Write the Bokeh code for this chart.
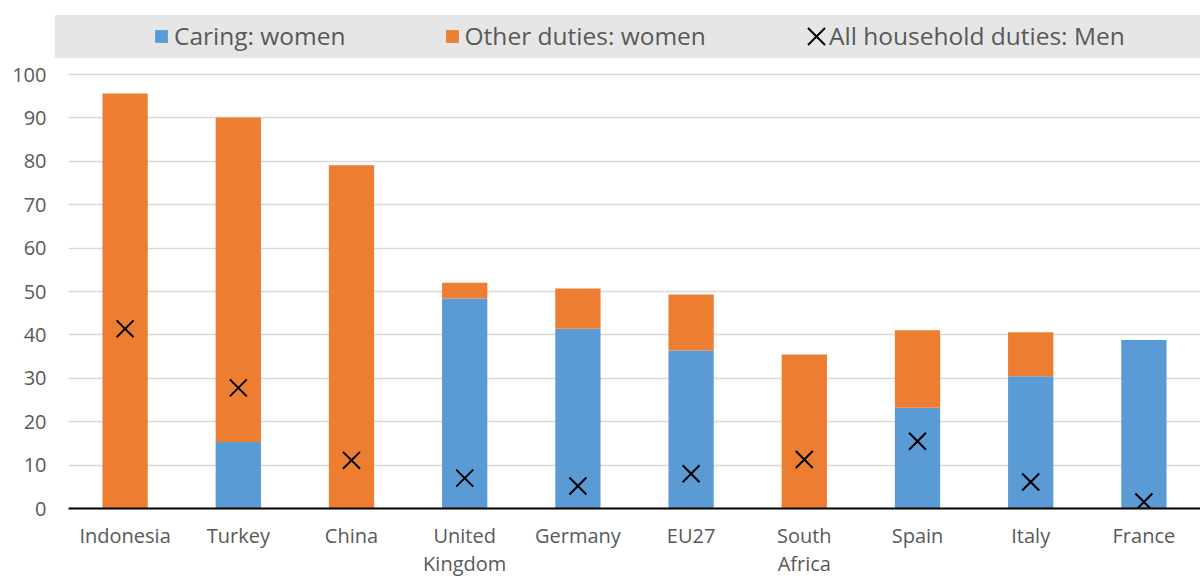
from bokeh.plotting import figure
from bokeh.models import (FactorRange, Range1d, FixedTicker, Legend,
                          LegendItem, ColumnDataSource, InlineStyleSheet)
from bokeh.embed import file_html
from bokeh.resources import INLINE

countries = ["Indonesia", "Turkey", "China", "United\nKingdom", "Germany", "EU27",
             "South\nAfrica", "Spain", "Italy", "France"]
caring_women = [0, 15.3, 0, 48.4, 41.4, 36.4, 0, 23.2, 30.5, 38.8]
other_women = [95.6, 74.8, 79.1, 3.6, 9.3, 12.9, 35.5, 17.9, 10.1, 0]
men_all = [41.4, 27.8, 11.1, 7.0, 5.2, 8.0, 11.3, 15.5, 6.1, 1.5]
y_ticks = list(range(0, 101, 10))
series_labels = ["Caring: women", "Other duties: women", "All household duties: Men"]

BLUE = "#5B9BD5"
ORANGE = "#ED7D31"
TXT = "#595959"
GREY = "#e6e6e6"
FONT = "Open Sans"

src = ColumnDataSource(dict(country=countries, caring=caring_women,
                            other=other_women, men=men_all))

p = figure(x_range=FactorRange(factors=countries), y_range=Range1d(0, 113.6),
           width=1200, height=579, output_backend="svg", toolbar_location=None,
           min_border_left=68, min_border_right=0, min_border_top=15,
           min_border_bottom=71)

# the grey legend strip begins a little left of the plotting area
p.border_fill_alpha = 0
p.stylesheets = [InlineStyleSheet(css=(
    ":host { background: linear-gradient(%s, %s) 55px 15px / 14px 43px no-repeat, white; }"
    % (GREY, GREY)))]

bars = p.vbar_stack(["caring", "other"], x="country", width=0.4, source=src,
                    color=[BLUE, ORANGE], line_color=None)
men = p.scatter(x="country", y="men", source=src, marker="x", size=24,
                line_color="black", line_width=2)
dummy = p.scatter(x=[], y=[], fill_color=None, line_color=None)

p.outline_line_color = None
p.xgrid.grid_line_color = None
p.ygrid.grid_line_color = "#d9d9d9"
p.ygrid.grid_line_width = 1.5

p.yaxis.ticker = FixedTicker(ticks=y_ticks)
p.yaxis.axis_line_color = None
p.yaxis.major_tick_line_color = None
p.yaxis.major_tick_out = 0
p.yaxis.minor_tick_line_color = None
p.yaxis.major_label_text_font = FONT
p.yaxis.major_label_text_font_size = "20px"
p.yaxis.major_label_text_color = TXT
p.yaxis.major_label_standoff = 22

p.xaxis.axis_line_color = "black"
p.xaxis.axis_line_width = 2
p.xaxis.major_tick_line_color = None
p.xaxis.major_tick_out = 0
p.xaxis.major_tick_in = 0
p.xaxis.major_label_text_font = FONT
p.xaxis.major_label_text_font_size = "20px"
p.xaxis.major_label_text_color = TXT
p.xaxis.major_label_text_line_height = 1.05
p.xaxis.major_label_standoff = 13

common = dict(orientation="horizontal", margin=0, padding=0, label_text_font=FONT,
              label_text_font_size="24.5px", label_text_color=TXT,
              border_line_color=None)

# grey band behind the legend
band = Legend(items=[LegendItem(label=" ", renderers=[dummy])],
              location=(-13, 450), glyph_width=1, glyph_height=43,
              label_standoff=0, label_width=1144, spacing=0,
              background_fill_color=GREY, background_fill_alpha=1, **common)
leg1 = Legend(items=[LegendItem(label=series_labels[0], renderers=[bars[0]]),
                     LegendItem(label=series_labels[1], renderers=[bars[1]])],
              location=(85, 456), glyph_width=16, glyph_height=16,
              label_standoff=5, spacing=98, background_fill_alpha=0, **common)
leg2 = Legend(items=[LegendItem(label=" ", renderers=[men])],
              location=(718, 442), glyph_width=60, glyph_height=60,
              label_standoff=0, spacing=0, background_fill_alpha=0, **common)
leg3 = Legend(items=[LegendItem(label=series_labels[2], renderers=[dummy])],
              location=(760, 456), glyph_width=1, glyph_height=16,
              label_standoff=0, spacing=0, background_fill_alpha=0, **common)
for lg in (band, leg1, leg2, leg3):
    p.add_layout(lg)

open("out.html", "w").write(file_html(p, INLINE))
